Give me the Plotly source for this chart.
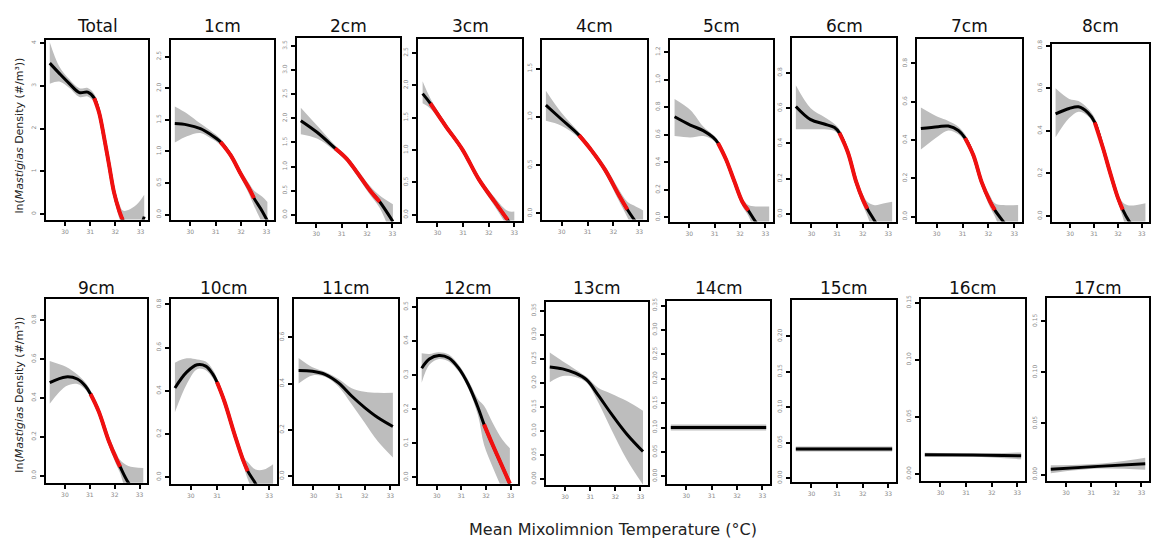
import plotly.graph_objects as go

W, H = 1151, 544

# ---------------- data ----------------
titles = ["Total", "1cm", "2cm", "3cm", "4cm", "5cm", "6cm", "7cm", "8cm",
          "9cm", "10cm", "11cm", "12cm", "13cm", "14cm", "15cm", "16cm", "17cm"]

x_tick_vals = [30, 31, 32, 33]
x_tick_text = ["30", "31", "32", "33"]
x_tick_text_10cm = ["30", "31", "", "33"]

total_x = [29.39, 29.77, 30.17, 30.57, 30.9, 31.16, 31.36, 31.55, 31.75, 31.95, 32.15, 32.3, 32.6, 32.9, 33.15]
total_y = [3.53, 3.29, 3.05, 2.84, 2.85, 2.71, 2.36, 1.8, 1.15, 0.5, 0.08, -0.15, -0.55, -0.4, -0.06]
total_hi = [4.02, 3.45, 3.15, 2.94, 2.95, 2.81, 2.46, 1.91, 1.27, 0.63, 0.25, 0.08, 0.12, 0.25, 0.45]
total_lo = [3.05, 3.1, 2.95, 2.74, 2.75, 2.61, 2.26, 1.69, 1.03, 0.37, -0.09, -0.38, -1.2, -1.1, -0.6]
total_red = [5, 11]
total_yticks = [0, 1, 2, 3, 4]

cm1_x = [29.39, 29.87, 30.4, 30.79, 31.19, 31.59, 31.98, 32.31, 32.51, 32.84, 33.04]
cm1_y = [1.44, 1.42, 1.36, 1.27, 1.15, 0.94, 0.65, 0.42, 0.26, 0.05, -0.1]
cm1_hi = [1.71, 1.6, 1.44, 1.33, 1.2, 0.99, 0.71, 0.5, 0.38, 0.28, 0.2]
cm1_lo = [1.14, 1.24, 1.29, 1.21, 1.1, 0.89, 0.59, 0.33, 0.14, -0.15, -0.4]
cm1_red = [4, 8]
cm1_yticks = [0, 0.5, 1.0, 1.5, 2.0, 2.5]

cm2_x = [29.39, 30.03, 30.74, 31.2, 31.59, 32.11, 32.5, 33.02]
cm2_y = [1.95, 1.71, 1.38, 1.16, 0.89, 0.51, 0.27, -0.14]
cm2_hi = [2.22, 1.85, 1.44, 1.22, 0.96, 0.6, 0.4, 0.22]
cm2_lo = [1.67, 1.58, 1.32, 1.1, 0.82, 0.42, 0.14, -0.5]
cm2_red = [2, 6]
cm2_yticks = [0, 0.5, 1.0, 1.5, 2.0, 2.5, 3.0, 3.5]

cm3_x = [29.42, 29.72, 30.32, 30.97, 31.61, 32.25, 32.74, 33.0]
cm3_y = [1.87, 1.72, 1.37, 1.01, 0.55, 0.19, -0.08, -0.2]
cm3_hi = [2.06, 1.8, 1.42, 1.05, 0.6, 0.26, 0.06, 0.05]
cm3_lo = [1.72, 1.64, 1.32, 0.97, 0.5, 0.12, -0.2, -0.45]
cm3_red = [1, 6]
cm3_yticks = [0, 0.5, 1.0, 1.5, 2.0, 2.5]

cm4_x = [29.39, 29.97, 30.67, 31.16, 31.68, 32.21, 32.54, 32.8, 33.15]
cm4_y = [1.12, 0.98, 0.81, 0.65, 0.45, 0.19, 0.04, -0.065, -0.2]
cm4_hi = [1.27, 1.05, 0.84, 0.68, 0.49, 0.25, 0.12, 0.08, 0.03]
cm4_lo = [0.96, 0.91, 0.78, 0.62, 0.41, 0.13, -0.04, -0.2, -0.45]
cm4_red = [2, 6]
cm4_yticks = [0, 0.5, 1.0, 1.5]

cm5_x = [29.42, 30.04, 30.55, 30.94, 31.13, 31.45, 31.78, 32.1, 32.33, 32.61, 33.15]
cm5_y = [0.73, 0.67, 0.63, 0.58, 0.54, 0.42, 0.26, 0.11, 0.05, -0.03, -0.15]
cm5_hi = [0.86, 0.78, 0.66, 0.6, 0.56, 0.44, 0.29, 0.14, 0.09, 0.08, 0.08]
cm5_lo = [0.59, 0.58, 0.59, 0.56, 0.52, 0.4, 0.23, 0.08, 0.01, -0.12, -0.4]
cm5_red = [4, 8]
cm5_yticks = [0, 0.2, 0.4, 0.6, 0.8, 1.0, 1.2]

cm6_x = [29.39, 29.97, 30.5, 30.9, 31.09, 31.42, 31.75, 32.01, 32.18, 32.47, 32.8, 33.15]
cm6_y = [0.61, 0.535, 0.51, 0.49, 0.46, 0.35, 0.18, 0.08, 0.03, -0.04, -0.12, -0.15]
cm6_hi = [0.73, 0.6, 0.55, 0.51, 0.48, 0.37, 0.21, 0.11, 0.07, 0.05, 0.06, 0.07]
cm6_lo = [0.48, 0.48, 0.48, 0.47, 0.44, 0.33, 0.15, 0.05, -0.01, -0.13, -0.3, -0.4]
cm6_red = [4, 8]
cm6_yticks = [0, 0.2, 0.4, 0.6, 0.8]

cm7_x = [29.39, 30.06, 30.45, 30.84, 31.1, 31.42, 31.74, 32.06, 32.25, 32.58, 33.15]
cm7_y = [0.46, 0.47, 0.473, 0.45, 0.41, 0.32, 0.18, 0.08, 0.034, -0.026, -0.12]
cm7_hi = [0.57, 0.52, 0.5, 0.47, 0.43, 0.34, 0.2, 0.11, 0.07, 0.06, 0.06]
cm7_lo = [0.35, 0.42, 0.45, 0.43, 0.39, 0.3, 0.16, 0.05, 0.0, -0.11, -0.3]
cm7_red = [4, 8]
cm7_yticks = [0, 0.2, 0.4, 0.6, 0.8]

cm8_x = [29.39, 29.96, 30.35, 30.74, 31.03, 31.38, 31.7, 32.0, 32.2, 32.46, 33.15]
cm8_y = [0.48, 0.505, 0.513, 0.486, 0.44, 0.317, 0.193, 0.085, 0.03, -0.023, -0.12]
cm8_hi = [0.6, 0.55, 0.54, 0.505, 0.46, 0.335, 0.21, 0.105, 0.065, 0.05, 0.06]
cm8_lo = [0.37, 0.46, 0.49, 0.47, 0.42, 0.3, 0.175, 0.065, -0.005, -0.1, -0.3]
cm8_red = [4, 8]
cm8_yticks = [0, 0.2, 0.4, 0.6, 0.8]

cm9_x = [29.39, 30.04, 30.5, 30.83, 31.03, 31.36, 31.76, 32.09, 32.22, 32.55, 33.15]
cm9_y = [0.478, 0.508, 0.497, 0.46, 0.42, 0.33, 0.18, 0.08, 0.046, -0.036, -0.13]
cm9_hi = [0.59, 0.56, 0.52, 0.478, 0.438, 0.35, 0.205, 0.11, 0.08, 0.05, 0.04]
cm9_lo = [0.37, 0.46, 0.472, 0.442, 0.402, 0.31, 0.155, 0.05, 0.012, -0.12, -0.3]
cm9_red = [4, 8]
cm9_yticks = [0, 0.2, 0.4, 0.6, 0.8]

cm10_x = [29.39, 29.84, 30.24, 30.57, 30.83, 31.0, 31.29, 31.68, 32.02, 32.18, 32.48, 32.8, 33.15]
cm10_y = [0.413, 0.486, 0.52, 0.514, 0.479, 0.44, 0.349, 0.196, 0.073, 0.028, -0.03, -0.1, -0.12]
cm10_hi = [0.53, 0.55, 0.545, 0.535, 0.5, 0.46, 0.37, 0.215, 0.095, 0.07, 0.035, 0.035, 0.06]
cm10_lo = [0.3, 0.43, 0.5, 0.495, 0.46, 0.42, 0.33, 0.175, 0.05, -0.01, -0.1, -0.25, -0.3]
cm10_red = [5, 9]
cm10_yticks = [0, 0.2, 0.4, 0.6, 0.8]

cm11_x = [29.42, 29.96, 30.47, 30.98, 31.49, 32.0, 32.51, 33.1]
cm11_y = [0.456, 0.453, 0.439, 0.403, 0.346, 0.296, 0.253, 0.214]
cm11_hi = [0.51, 0.47, 0.45, 0.42, 0.38, 0.365, 0.36, 0.36]
cm11_lo = [0.4, 0.435, 0.428, 0.386, 0.31, 0.23, 0.15, 0.08]
cm11_red = None
cm11_yticks = [0, 0.2, 0.4, 0.6]

cm12_x = [29.39, 29.7, 30.09, 30.49, 30.89, 31.28, 31.68, 31.92, 32.27, 32.67, 32.97]
cm12_y = [0.32, 0.347, 0.357, 0.35, 0.32, 0.272, 0.204, 0.155, 0.095, 0.03, -0.019]
cm12_hi = [0.364, 0.362, 0.367, 0.36, 0.33, 0.285, 0.228, 0.21, 0.16, 0.11, 0.085]
cm12_lo = [0.277, 0.33, 0.347, 0.34, 0.31, 0.26, 0.18, 0.095, 0.03, -0.04, -0.12]
cm12_red = [7, 10]
cm12_yticks = [0, 0.1, 0.2, 0.3, 0.4, 0.5]

cm13_x = [29.39, 29.9, 30.41, 30.86, 31.31, 31.82, 32.46, 33.1]
cm13_y = [0.233, 0.229, 0.22, 0.206, 0.175, 0.137, 0.093, 0.057]
cm13_hi = [0.263, 0.245, 0.228, 0.212, 0.19, 0.178, 0.162, 0.142]
cm13_lo = [0.201, 0.214, 0.212, 0.2, 0.16, 0.105, 0.04, -0.012]
cm13_red = None
cm13_yticks = [0, 0.05, 0.1, 0.15, 0.2, 0.25, 0.3, 0.35]

cm14_x = [29.39, 31.27, 33.15]
cm14_y = [0.1, 0.1, 0.1]
cm14_hi = [0.106, 0.106, 0.106]
cm14_lo = [0.094, 0.094, 0.094]
cm14_red = None
cm14_yticks = [0, 0.05, 0.1, 0.15, 0.2, 0.25, 0.3, 0.35]

cm15_x = [29.39, 31.27, 33.15]
cm15_y = [0.041, 0.041, 0.041]
cm15_hi = [0.0445, 0.0445, 0.0445]
cm15_lo = [0.0375, 0.0375, 0.0375]
cm15_red = None
cm15_yticks = [0, 0.05, 0.1, 0.15, 0.2]

cm16_x = [29.39, 31.27, 33.15]
cm16_y = [0.0168, 0.0164, 0.0159]
cm16_hi = [0.0185, 0.0178, 0.0188]
cm16_lo = [0.015, 0.015, 0.0128]
cm16_red = None
cm16_yticks = [0, 0.05, 0.1, 0.15]

cm17_x = [29.39, 31.27, 33.15]
cm17_y = [0.0052, 0.008, 0.0106]
cm17_hi = [0.009, 0.0105, 0.0165]
cm17_lo = [0.0012, 0.0058, 0.0048]
cm17_red = None
cm17_yticks = [0, 0.05, 0.1, 0.15]

# ---------------- layout (pixel boxes / axis ranges) ----------------
boxes = [  # left, right, top, bottom in pixels
    (46, 148, 36, 218), (171, 274, 36, 218), (297, 400, 34, 220), (418, 522, 35, 219),
    (542, 647, 36, 218), (670, 773, 36, 220), (792, 896, 34, 220), (917, 1022, 35, 220),
    (1052, 1149, 40, 220),
    (46, 147, 298, 484), (171, 277, 298, 485), (294, 398, 298, 485), (418, 518, 298, 485),
    (546, 648, 301, 486), (667, 770, 300, 485), (792, 896, 299, 483), (921, 1025, 298, 482),
    (1047, 1149, 297, 482),
]
title_rows_y = [22, 287]  # pixel centre of panel titles, per row
y_ranges = [
    (-0.13, 4.08), (-0.08, 2.77), (-0.14, 3.67), (-0.09, 2.72), (-0.065, 1.8),
    (-0.03, 1.29), (-0.043, 1.0), (-0.026, 0.93), (-0.026, 0.81),
    (-0.036, 0.91), (-0.03, 0.826), (-0.033, 0.767), (-0.019, 0.524), (-0.012, 0.369),
    (-0.015, 0.36), (-0.005, 0.2515), (-0.006, 0.1535), (-0.006, 0.173),
]
y_formats = ["d", ".1f", ".1f", ".1f", ".1f", ".1f", ".1f", ".1f", ".1f",
             ".1f", ".1f", ".1f", ".1f", ".2f", ".2f", ".2f", ".2f", ".2f"]
x_range = (29.24, 33.3)

series = [
    (total_x, total_y, total_lo, total_hi, total_red, total_yticks),
    (cm1_x, cm1_y, cm1_lo, cm1_hi, cm1_red, cm1_yticks),
    (cm2_x, cm2_y, cm2_lo, cm2_hi, cm2_red, cm2_yticks),
    (cm3_x, cm3_y, cm3_lo, cm3_hi, cm3_red, cm3_yticks),
    (cm4_x, cm4_y, cm4_lo, cm4_hi, cm4_red, cm4_yticks),
    (cm5_x, cm5_y, cm5_lo, cm5_hi, cm5_red, cm5_yticks),
    (cm6_x, cm6_y, cm6_lo, cm6_hi, cm6_red, cm6_yticks),
    (cm7_x, cm7_y, cm7_lo, cm7_hi, cm7_red, cm7_yticks),
    (cm8_x, cm8_y, cm8_lo, cm8_hi, cm8_red, cm8_yticks),
    (cm9_x, cm9_y, cm9_lo, cm9_hi, cm9_red, cm9_yticks),
    (cm10_x, cm10_y, cm10_lo, cm10_hi, cm10_red, cm10_yticks),
    (cm11_x, cm11_y, cm11_lo, cm11_hi, cm11_red, cm11_yticks),
    (cm12_x, cm12_y, cm12_lo, cm12_hi, cm12_red, cm12_yticks),
    (cm13_x, cm13_y, cm13_lo, cm13_hi, cm13_red, cm13_yticks),
    (cm14_x, cm14_y, cm14_lo, cm14_hi, cm14_red, cm14_yticks),
    (cm15_x, cm15_y, cm15_lo, cm15_hi, cm15_red, cm15_yticks),
    (cm16_x, cm16_y, cm16_lo, cm16_hi, cm16_red, cm16_yticks),
    (cm17_x, cm17_y, cm17_lo, cm17_hi, cm17_red, cm17_yticks),
]

BAND = "#bdbdbd"
RED = "#f01010"
TICK_FONT = dict(family="DejaVu Sans, Verdana, sans-serif", size=6, color="#8a8a8a")
TITLE_FONT = dict(family="DejaVu Sans, Verdana, sans-serif", size=17, color="#111111")

fig = go.Figure()
annotations = []

for i, (title, (xs, ys, lo, hi, red, yt), box, yr, yf) in enumerate(
        zip(titles, series, boxes, y_ranges, y_formats)):
    n = i + 1
    xa = "x" if n == 1 else f"x{n}"
    ya = "y" if n == 1 else f"y{n}"
    # confidence band
    fig.add_trace(go.Scatter(x=xs, y=lo, mode="lines", line=dict(width=0, shape="spline", color=BAND),
                             xaxis=xa, yaxis=ya, showlegend=False, hoverinfo="skip"))
    fig.add_trace(go.Scatter(x=xs, y=hi, mode="lines", line=dict(width=0, shape="spline", color=BAND),
                             fill="tonexty", fillcolor=BAND,
                             xaxis=xa, yaxis=ya, showlegend=False, hoverinfo="skip"))
    # fitted curve
    fig.add_trace(go.Scatter(x=xs, y=ys, mode="lines", line=dict(width=3, shape="spline", color="black"),
                             xaxis=xa, yaxis=ya, showlegend=False))
    if red is not None:
        a, b = red
        fig.add_trace(go.Scatter(x=xs[a:b + 1], y=ys[a:b + 1], mode="lines",
                                 line=dict(width=4, shape="spline", color=RED),
                                 xaxis=xa, yaxis=ya, showlegend=False))

    left, right, top, bottom = box
    xd = [left / W, right / W]
    yd = [1 - bottom / H, 1 - top / H]
    common = dict(showline=True, mirror=True, linecolor="black", linewidth=2,
                  ticks="outside", ticklen=4, tickwidth=1.5, tickcolor="black",
                  showgrid=False, zeroline=False, tickfont=TICK_FONT)
    fig.layout[("xaxis" if n == 1 else f"xaxis{n}")] = dict(
        domain=xd, anchor=ya, range=list(x_range),
        tickvals=x_tick_vals,
        ticktext=x_tick_text_10cm if title == "10cm" else x_tick_text,
        ticklabelstandoff=1, **common)
    fig.layout[("yaxis" if n == 1 else f"yaxis{n}")] = dict(
        domain=yd, anchor=xa, range=list(yr), tickvals=yt, tickformat=yf,
        tickangle=-90, ticklabelstandoff=2, **common)

    ty = title_rows_y[0 if i < 9 else 1]
    annotations.append(dict(text=title, x=(left + right) / 2 / W, y=1 - ty / H,
                            xref="paper", yref="paper", xanchor="center", yanchor="middle",
                            showarrow=False, font=TITLE_FONT))

ylab = "ln(<i>Mastigias</i> Density (#/m³))"
for cy in (133, 395):
    annotations.append(dict(text=ylab, x=20 / W, y=1 - cy / H, xref="paper", yref="paper",
                            xanchor="center", yanchor="middle", textangle=-90, showarrow=False,
                            font=dict(family="DejaVu Sans, Verdana, sans-serif", size=11, color="#222")))
annotations.append(dict(text="Mean Mixolimnion Temperature (°C)", x=613 / W, y=1 - 531 / H,
                        xref="paper", yref="paper", xanchor="center", yanchor="middle",
                        showarrow=False,
                        font=dict(family="DejaVu Sans, Verdana, sans-serif", size=16, color="#222")))

fig.update_layout(width=W, height=H, margin=dict(l=0, r=0, t=0, b=0),
                  paper_bgcolor="white", plot_bgcolor="white",
                  annotations=annotations, showlegend=False)

fig.write_html("out.html")
